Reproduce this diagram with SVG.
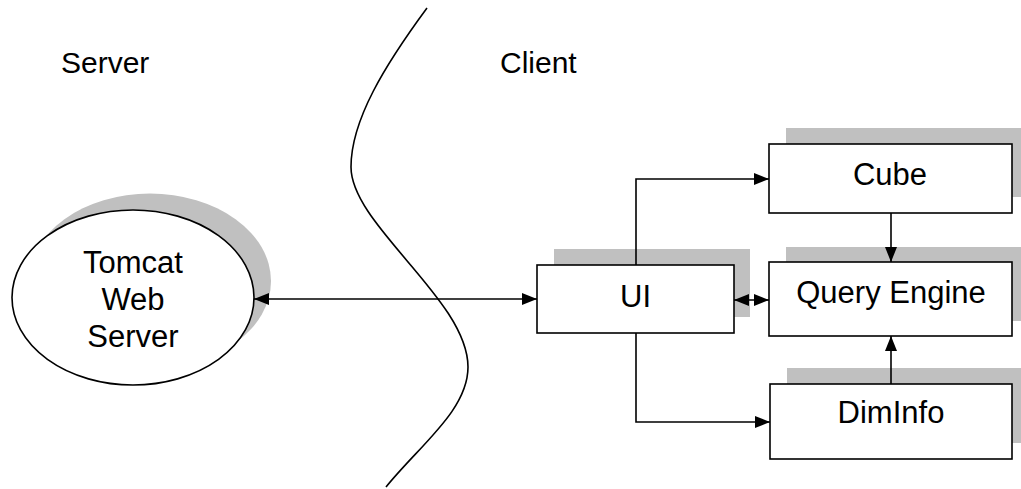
<svg xmlns="http://www.w3.org/2000/svg" width="1021" height="489" viewBox="0 0 1021 489">
<style>
.shadow{fill:#c0c0c0;stroke:none}
.box{fill:#fff;stroke:#000;stroke-width:1.6}
.lbl{font-family:"Liberation Sans",Arial,sans-serif;font-size:31px;fill:#000;text-anchor:middle}
.side{font-family:"Liberation Sans",Arial,sans-serif;font-size:30px;fill:#000}
.conn{fill:none;stroke:#000;stroke-width:1.6}
</style>
<defs>
<marker id="ah" markerUnits="userSpaceOnUse" markerWidth="16" markerHeight="14" refX="15" refY="6" orient="auto-start-reverse">
<path d="M0,0 L15,6 L0,12 z" fill="#000"/>
</marker>
</defs>
<rect width="1021" height="489" fill="#fff"/>
<g id="divider">
<path d="M427,8 C385,65 351,120 351,167 C351,225 468,300 468,367 C468,410 420,445 386,487" fill="none" stroke="#000" stroke-width="1.6"/>
</g>
<g id="label-server"><text class="side" x="61" y="73">Server</text></g>
<g id="label-client"><text class="side" x="500" y="73">Client</text></g>
<g id="tomcat">
<ellipse class="shadow" cx="150" cy="281" rx="121" ry="87.5"/>
<ellipse class="box" cx="133" cy="297.5" rx="121" ry="87.5"/>
<text class="lbl" x="133" y="273">Tomcat</text>
<text class="lbl" x="133" y="310">Web</text>
<text class="lbl" x="133" y="347">Server</text>
</g>
<g id="ui">
<rect class="shadow" x="554" y="249" width="196" height="68"/>
<rect class="box" x="537" y="265" width="197" height="68"/>
<text class="lbl" x="635.5" y="307">UI</text>
</g>
<g id="cube">
<rect class="shadow" x="786" y="128" width="243" height="69"/>
<rect class="box" x="769" y="144" width="243" height="69"/>
<text class="lbl" x="890" y="185">Cube</text>
</g>
<g id="query-engine">
<rect class="shadow" x="786" y="247" width="243" height="74"/>
<rect class="box" x="769" y="262" width="243" height="74"/>
<text class="lbl" x="891" y="303">Query Engine</text>
</g>
<g id="diminfo">
<rect class="shadow" x="787" y="368" width="243" height="75"/>
<rect class="box" x="770" y="384" width="242" height="75"/>
<text class="lbl" x="891" y="423">DimInfo</text>
</g>
<g id="connectors">
<path class="conn" d="M254,299 L537,299" marker-start="url(#ah)" marker-end="url(#ah)"/>
<path class="conn" d="M636,265 L636,179 L769,179" marker-end="url(#ah)"/>
<path class="conn" d="M636,333 L636,422 L770,422" marker-end="url(#ah)"/>
<path class="conn" d="M734,300 L769,300" marker-start="url(#ah)" marker-end="url(#ah)"/>
<path class="conn" d="M891,213 L891,262" marker-end="url(#ah)"/>
<path class="conn" d="M891,384 L891,336" marker-end="url(#ah)"/>
</g>
</svg>
